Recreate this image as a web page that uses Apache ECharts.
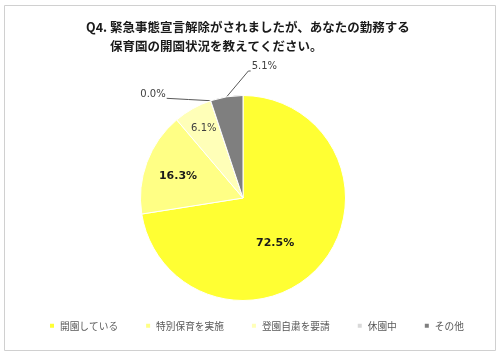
<!DOCTYPE html>
<html>
<head>
<meta charset="utf-8">
<script src="https://cdn.jsdelivr.net/npm/echarts@6/dist/echarts.min.js"></script>
<style>
html,body{margin:0;padding:0;background:#fff;}
#main{width:500px;height:356px;}
</style>
</head>
<body>
<div id="main"></div>
<script>
// ---- data ----
var titleLine1 = 'Q4. 緊急事態宣言解除がされましたが、あなたの勤務する';
var titleLine2 = '保育園の開園状況を教えてください。';
var categories = ['開園している', '特別保育を実施', '登園自粛を要請', '休園中', 'その他'];
var values = [72.5, 16.3, 6.1, 0.0, 5.1];

// ---- styling ----
var colors = ['#FFFF33', '#FFFF85', '#FFFFB8', '#D9D9D9', '#7F7F7F'];
var CX = 243, CY = 198, R = 102.5;
// label placement: inside labels as fraction of radius + angle offset (deg)
var insidePlace = [
  { f: 0.54, da: 14 },
  { f: 0.67, da: -1.5 },
  { f: 0.78, da: 0 }
];

var chart = echarts.init(document.getElementById('main'), null, { renderer: 'canvas' });

function itemLayout(i) {
  return chart.getModel().getSeriesByIndex(0).getData().getItemLayout(i);
}

var pieData = categories.map(function (name, i) {
  var inside = i < 3;
  return {
    name: name,
    value: values[i],
    itemStyle: { color: colors[i] },
    label: inside ? {
      position: 'inside',
      fontSize: i === 2 ? 10 : 11,
      fontWeight: i === 2 ? 'normal' : 'bold',
      color: i === 2 ? '#404040' : '#1a1a1a'
    } : {
      position: 'outside',
      fontSize: 10,
      fontWeight: 'normal',
      color: '#404040'
    },
    labelLine: { show: !inside }
  };
});

var option = {
  animation: false,
  backgroundColor: '#ffffff',
  graphic: [{
    type: 'rect',
    shape: { x: 4.5, y: 5.5, width: 491, height: 345 },
    style: { fill: 'none', stroke: '#d0d0d0', lineWidth: 1 },
    z: -1
  }],
  title: [{
    text: titleLine1,
    left: 81, top: 16,
    textStyle: { fontFamily: '"Noto Sans CJK JP"', fontSize: 12.5, fontWeight: 'bold', color: '#1a1a1a' }
  }, {
    text: titleLine2,
    left: 105, top: 35,
    textStyle: { fontFamily: '"Noto Sans CJK JP"', fontSize: 12.5, fontWeight: 'bold', color: '#1a1a1a' }
  }],
  legend: {
    data: categories,
    left: 43, top: 316,
    icon: 'rect',
    itemWidth: 6, itemHeight: 6,
    itemGap: 26,
    textStyle: { fontFamily: '"Noto Sans CJK JP"', fontSize: 9.7, color: '#595959' }
  },
  series: [{
    type: 'pie',
    center: [CX, CY],
    radius: [0, R],
    startAngle: 90,
    clockwise: true,
    avoidLabelOverlap: false,
    minShowLabelAngle: 0,
    itemStyle: { borderColor: '#ffffff', borderWidth: 1 },
    label: {
      show: true,
      fontFamily: '"DejaVu Sans"',
      formatter: function (p) { return p.value.toFixed(1) + '%'; }
    },
    labelLine: { lineStyle: { color: '#595959', width: 1 } },
    emphasis: { disabled: true },
    labelLayout: function (p) {
      var i = p.dataIndex;
      var L = itemLayout(i);
      if (!L) return {};
      var mid = (L.startAngle + L.endAngle) / 2;
      if (i < 3) {
        var a = mid + insidePlace[i].da * Math.PI / 180;
        var rr = insidePlace[i].f * L.r;
        return { x: L.cx + rr * Math.cos(a), y: L.cy + rr * Math.sin(a), align: 'center', verticalAlign: 'middle' };
      }
      var p0 = [L.cx + L.r * Math.cos(mid), L.cy + L.r * Math.sin(mid)];
      if (i === 3) {
        return {
          x: p0[0] - 45, y: p0[1] - 6, align: 'right', verticalAlign: 'middle',
          labelLinePoints: [p0, [p0[0] - 22, p0[1] - 1.2], [p0[0] - 44, p0[1] - 2.4]]
        };
      }
      return {
        x: p0[0] + 25, y: p0[1] - 30, align: 'left', verticalAlign: 'middle',
        labelLinePoints: [p0, [p0[0] + 21.7, p0[1] - 25.8], [p0[0] + 24, p0[1] - 25.8]]
      };
    },
    data: pieData
  }]
};

chart.setOption(option);
</script>
</body>
</html>
